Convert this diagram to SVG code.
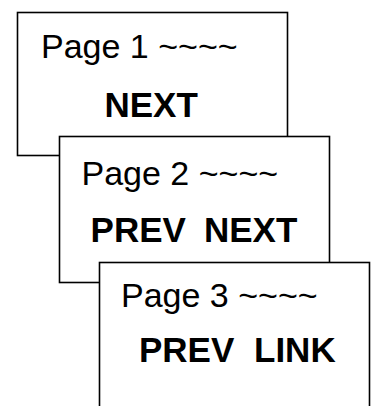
<svg xmlns="http://www.w3.org/2000/svg" width="371" height="406" viewBox="0 0 371 406">
  <style>
    .page { fill: #ffffff; stroke: #000000; stroke-width: 1.6; }
    .title { font-family: "Liberation Sans", Arial, sans-serif; font-size: 34px; fill: #000000; }
    .nav { font-family: "Liberation Sans", Arial, sans-serif; font-size: 35px; font-weight: bold; fill: #000000; }
  </style>
  <rect width="371" height="406" fill="#ffffff"/>
  <g id="connectors"/>
  <g id="page1">
    <rect class="page" x="17.5" y="12.5" width="270" height="143"/>
    <text class="title" x="41" y="58">Page 1 ~~~~</text>
    <text class="nav" x="104.5" y="116.5">NEXT</text>
  </g>
  <g id="page2">
    <rect class="page" x="59.5" y="136.5" width="270" height="146"/>
    <text class="title" x="81.5" y="185">Page 2 ~~~~</text>
    <text class="nav" x="90.6" y="241.5">PREV<tspan x="204">NEXT</tspan></text>
  </g>
  <g id="page3">
    <rect class="page" x="99.5" y="262.5" width="270" height="160"/>
    <text class="title" x="121" y="306.5">Page 3 ~~~~</text>
    <text class="nav" x="139" y="361.5">PREV<tspan x="254">LINK</tspan></text>
  </g>
</svg>
